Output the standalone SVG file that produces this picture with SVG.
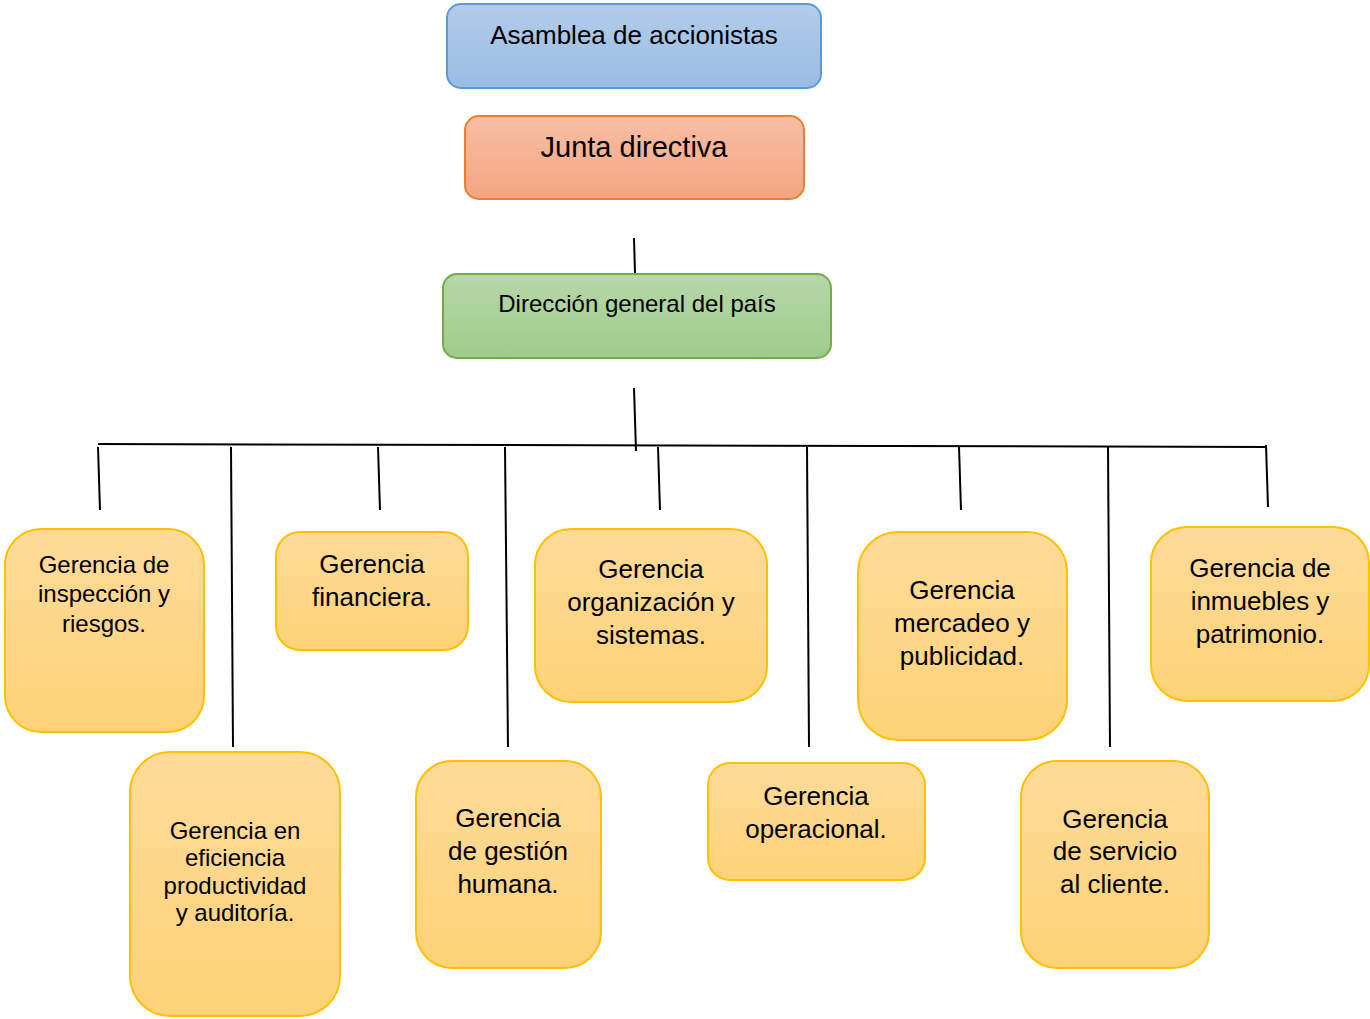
<svg xmlns="http://www.w3.org/2000/svg" width="1370" height="1019" viewBox="0 0 1370 1019">
<defs>
<linearGradient id="gBlue" x1="0" y1="0" x2="0" y2="1"><stop offset="0" stop-color="#b3cce9"/><stop offset="1" stop-color="#99bce5"/></linearGradient>
<linearGradient id="gRed" x1="0" y1="0" x2="0" y2="1"><stop offset="0" stop-color="#f8bfa5"/><stop offset="1" stop-color="#f4a481"/></linearGradient>
<linearGradient id="gGreen" x1="0" y1="0" x2="0" y2="1"><stop offset="0" stop-color="#b7d7a9"/><stop offset="1" stop-color="#a0cb8b"/></linearGradient>
<linearGradient id="gGold" x1="0" y1="0" x2="0" y2="1"><stop offset="0" stop-color="#fedb9a"/><stop offset="1" stop-color="#fdd277"/></linearGradient>
</defs>
<style>
text{font-family:"Liberation Sans",Arial,sans-serif;fill:#000;text-anchor:middle}
.gold{fill:url(#gGold);stroke:#ffc000;stroke-width:2}
.f24{font-size:24px}
.f26{font-size:26px}
#connectors line{stroke:#000;stroke-width:2}
</style>
<g id="connectors">
<line x1="634" y1="238" x2="635" y2="273"/>
<line x1="634" y1="388" x2="636" y2="451"/>
<line x1="98" y1="444" x2="1266" y2="447"/>
<line x1="1266" y1="445" x2="1268" y2="507"/>
<line x1="98" y1="447" x2="100" y2="510"/>
<line x1="231" y1="447" x2="233" y2="747"/>
<line x1="378" y1="447" x2="380" y2="510"/>
<line x1="505" y1="447" x2="508" y2="747"/>
<line x1="658" y1="447" x2="660" y2="510"/>
<line x1="807" y1="447" x2="809" y2="747"/>
<line x1="959" y1="447" x2="961" y2="510"/>
<line x1="1108" y1="447" x2="1110" y2="747"/>
</g>
<g id="asamblea">
<rect x="447" y="4" width="374" height="84" rx="14" fill="url(#gBlue)" stroke="#5b9bd5" stroke-width="2"/>
<text x="634" y="44" font-size="26">Asamblea de accionistas</text>
</g>
<g id="junta">
<rect x="465" y="116" width="339" height="83" rx="14" fill="url(#gRed)" stroke="#ed7d31" stroke-width="2"/>
<text x="634" y="157" font-size="29">Junta directiva</text>
</g>
<g id="direccion">
<rect x="443" y="274" width="388" height="84" rx="14" fill="url(#gGreen)" stroke="#70ad47" stroke-width="2"/>
<text x="637" y="312" class="f24">Dirección general del país</text>
</g>
<g id="inspeccion">
<rect x="5" y="529" width="199" height="203" rx="36" class="gold"/>
<text class="f24"><tspan x="104" y="573">Gerencia de</tspan><tspan x="104" y="602">inspección y</tspan><tspan x="104" y="632">riesgos.</tspan></text>
</g>
<g id="financiera">
<rect x="276" y="532" width="192" height="118" rx="24" class="gold"/>
<text class="f26"><tspan x="372" y="573">Gerencia</tspan><tspan x="372" y="606">financiera.</tspan></text>
</g>
<g id="organizacion">
<rect x="535" y="529" width="232" height="173" rx="36" class="gold"/>
<text class="f26"><tspan x="651" y="578">Gerencia</tspan><tspan x="651" y="611">organización y</tspan><tspan x="651" y="644">sistemas.</tspan></text>
</g>
<g id="mercadeo">
<rect x="858" y="532" width="209" height="208" rx="40" class="gold"/>
<text class="f26"><tspan x="962" y="599">Gerencia</tspan><tspan x="962" y="632">mercadeo y</tspan><tspan x="962" y="665">publicidad.</tspan></text>
</g>
<g id="inmuebles">
<rect x="1151" y="527" width="218" height="174" rx="36" class="gold"/>
<text class="f26"><tspan x="1260" y="577">Gerencia de</tspan><tspan x="1260" y="610">inmuebles y</tspan><tspan x="1260" y="643">patrimonio.</tspan></text>
</g>
<g id="eficiencia">
<rect x="130" y="752" width="210" height="264" rx="40" class="gold"/>
<text class="f24"><tspan x="235" y="839">Gerencia en</tspan><tspan x="235" y="866">eficiencia</tspan><tspan x="235" y="894">productividad</tspan><tspan x="235" y="921">y auditoría.</tspan></text>
</g>
<g id="gestion">
<rect x="416" y="761" width="185" height="207" rx="36" class="gold"/>
<text class="f26"><tspan x="508" y="827">Gerencia</tspan><tspan x="508" y="860">de gestión</tspan><tspan x="508" y="893">humana.</tspan></text>
</g>
<g id="operacional">
<rect x="708" y="763" width="217" height="117" rx="22" class="gold"/>
<text class="f26"><tspan x="816" y="805">Gerencia</tspan><tspan x="816" y="838">operacional.</tspan></text>
</g>
<g id="servicio">
<rect x="1021" y="761" width="188" height="207" rx="36" class="gold"/>
<text class="f26"><tspan x="1115" y="828">Gerencia</tspan><tspan x="1115" y="860">de servicio</tspan><tspan x="1115" y="893">al cliente.</tspan></text>
</g>
</svg>
